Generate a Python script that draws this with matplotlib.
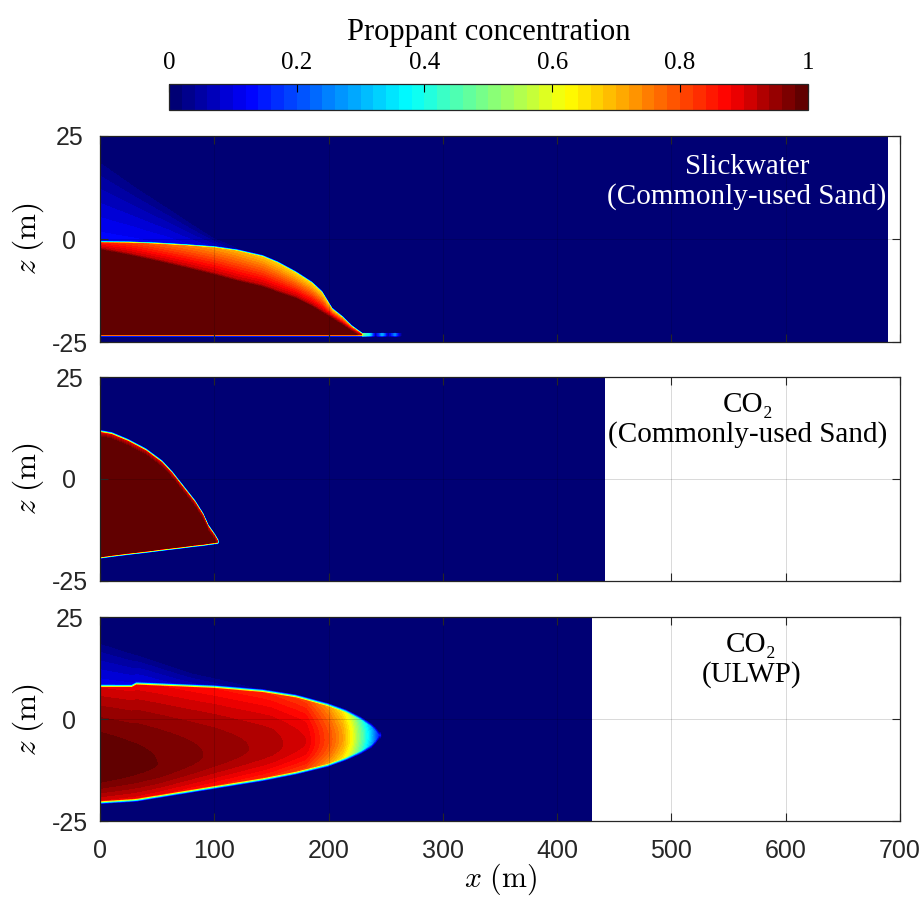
import numpy as np
import matplotlib.pyplot as plt
from matplotlib.colors import LinearSegmentedColormap

plt.rcParams['mathtext.fontset'] = 'cm'
plt.rcParams['axes.unicode_minus'] = False
plt.rcParams['font.family'] = ['Liberation Sans', 'DejaVu Sans']

# fracture length of each case (m) and panel labels
frac_len = [689, 441, 430]
case_labels = ['Slickwater\n(Commonly-used Sand)', 'CO₂\n(Commonly-used Sand)', 'CO₂\n(ULWP)']
label_colors = ['white', 'black', 'black']
label_x = [566, 567, 570]
label_z = [13.9, 14.4, 14.4]

# slickwater + sand: bank top, dense core top, concentration at bank surface
sw_x = [0, 25, 50, 75, 100, 120, 142, 155, 171, 185, 194, 203, 212, 220, 226, 229]
sw_top = [-1.0, -1.05, -1.3, -1.7, -2.2, -3.0, -4.4, -5.9, -8.3, -10.8, -13.1, -17.2, -19.2, -21.4, -22.6, -23.2]
sw_core = [-2.2, -3.5, -5.0, -6.6, -8.3, -9.8, -11.2, -12.5, -14.0, -15.9, -17.4, -18.9, -20.5, -22.0, -23.0, -23.2]
sw_surf = [0.85, 0.82, 0.78, 0.75, 0.72, 0.70, 0.68, 0.67, 0.66, 0.66, 0.66, 0.67, 0.70, 0.74, 0.80, 0.85]
sw_bottom = -23.2
# suspended haze above the bank
sw_haze_x = [0, 30, 60, 100, 130]
sw_haze_top = [21, 14.5, 8.5, 0.5, -2.5]
sw_haze_c = [0.135, 0.13, 0.12, 0.09, 0.0]
# small patches ahead of the bank on the bottom
sw_blob_x = [229, 236, 241, 247, 252, 258, 264]
sw_blob_c = [0.5, 0.35, 0.05, 0.3, 0.05, 0.25, 0.0]

# CO2 + sand: bank top and bottom
cs_x = [0, 10, 24.5, 40, 54, 63, 72, 83, 90, 94.5, 100, 103]
cs_top = [11.3, 10.8, 9.1, 6.8, 3.9, 1.2, -2.0, -5.9, -9.0, -11.8, -14.0, -15.4]
cs_bot = [-19.0, -18.6, -18.1, -17.6, -17.1, -16.8, -16.5, -16.1, -15.9, -15.7, -15.5, -15.4]
cs_c = 0.999

# CO2 + ULWP: outer envelope, centre line and centre-line concentration
ul_x = [0, 28, 32, 100, 142, 171, 199, 215, 228, 237, 241, 244]
ul_top = [7.6, 7.6, 8.2, 7.4, 6.4, 5.1, 3.0, 1.4, -0.4, -2.0, -3.0, -4.0]
ul_bot = [-19.9, -19.4, -19.3, -16.2, -14.3, -12.7, -10.8, -9.2, -7.6, -6.2, -5.1, -4.0]
ul_cx = [0, 50, 100, 150, 180, 200, 212, 220, 230, 238, 244]
ul_cz = [-12.0, -11.0, -8.5, -6.5, -5.5, -5.0, -4.7, -4.5, -4.2, -4.0, -4.0]
ul_cc = [1.0, 0.98, 0.955, 0.93, 0.90, 0.80, 0.72, 0.62, 0.45, 0.30, 0.15]
ul_haze_x = [0, 40, 80, 120, 160]
ul_haze_top = [20, 16, 12, 9.5, 7.5]
ul_haze_c = [0.12, 0.11, 0.08, 0.05, 0.0]

# MATLAB-like jet with the darker ends seen in the figure
cmap = LinearSegmentedColormap.from_list(
    'jet_dark',
    [(0.0, (0, 0, 0.42)), (0.125, (0, 0, 1)), (0.375, (0, 1, 1)),
     (0.625, (1, 1, 0)), (0.875, (1, 0, 0)), (1.0, (0.34, 0, 0))])


def grid(L):
    x = np.arange(0, L + 0.5, 0.5)
    z = np.arange(-25, 25.05, 0.1)
    return np.meshgrid(x, z)


def haze(X, Z, top, hx, htop, hc):
    ht = np.interp(X, hx, htop)
    hv = np.interp(X, hx, hc, right=0.0)
    frac = np.clip((Z - top) / np.maximum(ht - top, 0.1), 0, 1)
    h = hv * (1 - frac) ** 0.9
    h[Z < top + 0.5] = 0
    return h


def field_slickwater(L):
    X, Z = grid(L)
    inside_x = X <= sw_x[-1]
    top = np.interp(X, sw_x, sw_top)
    core = np.interp(X, sw_x, sw_core)
    surf = np.interp(X, sw_x, sw_surf)
    t = np.clip((top - Z) / np.maximum(top - core, 0.05), 0, 1)
    c = surf + (0.92 - surf) * t
    deep = np.clip((core - Z) / 0.6, 0, 1)
    c = c + (0.999 - c) * deep
    c = c * np.clip(1 - (Z - top) / 0.5, 0, 1)
    c = c * np.clip(1 - (sw_bottom - Z) / 0.4, 0, 1)
    c[~inside_x] = 0
    hz = haze(X, Z, top, sw_haze_x, sw_haze_top, sw_haze_c)
    c = np.maximum(c, hz)
    blob = np.interp(X, sw_blob_x, sw_blob_c, left=0, right=0)
    strip = (np.abs(Z - sw_bottom) < 0.35) & (X > sw_x[-1])
    c[strip] = np.maximum(c[strip], blob[strip])
    return X, Z, c


def field_co2_sand(L):
    X, Z = grid(L)
    top = np.interp(X, cs_x, cs_top)
    bot = np.interp(X, cs_x, cs_bot)
    rim = np.clip((top - Z) / 1.2, 0, 1)
    c = 0.9 + (cs_c - 0.9) * rim
    c = c * np.clip(1 - (Z - top) / 0.7, 0, 1)
    c = c * np.clip(1 - (bot - Z) / 0.5, 0, 1)
    c[X > cs_x[-1]] = 0
    return X, Z, c


def field_ulwp(L):
    X, Z = grid(L)
    top = np.interp(X, ul_x, ul_top)
    bot = np.interp(X, ul_x, ul_bot)
    zc = np.interp(X, ul_cx, ul_cz)
    cc = np.interp(X, ul_cx, ul_cc)
    half = np.where(Z > zc, top - zc, zc - bot)
    s = np.abs(Z - zc) / np.maximum(half, 0.05)
    edge = cc * 0.9
    c = cc * (1 - 0.1 * np.minimum(s, 1) ** 2)
    dist = np.where(Z > zc, Z - top, bot - Z)
    out = s > 1
    c[out] = edge[out] * np.clip(1 - dist[out] / 0.9, 0, 1)
    c[X > ul_x[-1] + 1.5] = 0
    hz = haze(X, Z, top, ul_haze_x, ul_haze_top, ul_haze_c)
    c = np.maximum(c, hz)
    return X, Z, c


fig = plt.figure(figsize=(9.21, 8.97), dpi=100)
panel_pos = [[0.1086, 0.6187, 0.8686, 0.2297],
             [0.1086, 0.3523, 0.8686, 0.2274],
             [0.1086, 0.0847, 0.8686, 0.2274]]
levels = np.linspace(0, 1, 51)
builders = [field_slickwater, field_co2_sand, field_ulwp]
serif = ['Liberation Serif', 'DejaVu Serif']

cf0 = None
for i in range(3):
    ax = fig.add_axes(panel_pos[i])
    X, Z, C = builders[i](frac_len[i])
    cf = ax.contourf(X, Z, C, levels=levels, cmap=cmap, vmin=0, vmax=1)
    if cf0 is None:
        cf0 = cf
    ax.set_xlim(0, 700)
    ax.set_ylim(-25, 25)
    ax.set_xticks(range(0, 701, 100))
    ax.set_yticks([-25, 0, 25])
    ax.set_yticklabels(['-25', '0', '25'])
    ax.grid(True, color='k', alpha=0.15, linewidth=0.7)
    ax.set_axisbelow(False)
    ax.tick_params(direction='in', length=6, width=0.8, top=True, right=True,
                   labelsize=18, colors='#262626')
    ax.tick_params(axis='y', pad=22)
    ax.tick_params(axis='x', pad=13)
    for lab in ax.get_yticklabels():
        lab.set_horizontalalignment('center')
    for sp in ax.spines.values():
        sp.set_color('#262626')
        sp.set_linewidth(0.9)
    ax.set_ylabel(r'$z\ (\mathrm{m})$', fontsize=22.5, labelpad=4)
    if i < 2:
        ax.set_xticklabels([])
    else:
        ax.set_xlabel(r'$x\ (\mathrm{m})$', fontsize=21.5, labelpad=-1)
    ax.text(label_x[i], label_z[i], case_labels[i], ha='center', va='center',
            fontsize=21, color=label_colors[i], linespacing=1.15, family=serif)

cax = fig.add_axes([0.1835, 0.8774, 0.6935, 0.029])
cb = fig.colorbar(cf0, cax=cax, orientation='horizontal')
cb.set_ticks([0, 0.2, 0.4, 0.6, 0.8, 1])
cb.set_ticklabels(['0', '0.2', '0.4', '0.6', '0.8', '1'])
cax.xaxis.set_ticks_position('top')
cax.tick_params(direction='in', length=6, width=0.8, labelsize=18, pad=7)
for lab in cax.get_xticklabels():
    lab.set_family(serif)
cb.outline.set_linewidth(0.9)
cb.outline.set_edgecolor('#262626')
cax.set_title('Proppant concentration', fontsize=22, pad=32, family=serif)

fig.savefig('out.png', dpi=100)
